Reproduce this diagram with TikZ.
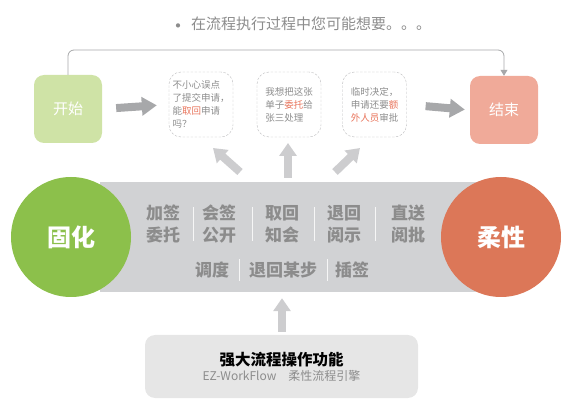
\documentclass[tikz,border=0pt]{standalone}
\usepackage{fontspec}
\setmainfont{Noto Sans CJK SC}
\usetikzlibrary{arrows.meta,positioning,calc}
\definecolor{txtgray}{HTML}{8C8C8C}
\definecolor{hl}{HTML}{E8735A}
\definecolor{startgreen}{HTML}{CFE3A6}
\definecolor{stopred}{HTML}{F0AA99}
\definecolor{fixgreen}{HTML}{8CC04B}
\definecolor{flexred}{HTML}{DC7758}
\definecolor{bandgray}{HTML}{D1D2D4}
\definecolor{darkarr}{HTML}{A7A8AA}
\definecolor{lightarr}{HTML}{CDCDCF}
\definecolor{basegray}{HTML}{E6E6E6}

\begin{document}
\begin{tikzpicture}[x=1pt,y=-1pt,
 endbox/.style={rounded corners=10pt,minimum width=68pt,minimum height=68pt,text=white,font=\fontsize{15}{18}\selectfont},
 wish/.style={draw=darkarr!80,dash pattern=on 2.5pt off 1.5pt,rounded corners=12pt,minimum width=64pt,minimum height=65pt,align=left,
   text=txtgray,font=\fontsize{9.5}{13}\selectfont,inner sep=0pt},
 circ/.style={circle,minimum size=120pt,inner sep=0pt,text=white,font=\fontsize{24}{28}\selectfont\bfseries},
 op/.style={align=center,text=txtgray,font=\fontsize{17}{22}\selectfont\bfseries,inner sep=0pt},
 sep/.style={draw=white!80!bandgray,line width=1pt},
 fat/.style={darkarr,line width=8pt,-{Triangle[length=15pt,width=18pt]}},
 up/.style={lightarr,line width=8pt,-{Triangle[length=13pt,width=17pt]}},
 conn/.style={draw=darkarr,line width=.8pt,rounded corners=6pt,-{Triangle[length=6pt,width=7pt]}}]
\useasboundingbox (0,0) rectangle (574,409);

% top hint
\node[text=txtgray,font=\fontsize{20}{20}\selectfont,inner sep=0pt] (dot) at (178,28.5) {•};
\node[text=txtgray,font=\fontsize{15}{18}\selectfont,anchor=west,inner sep=0pt] (hint) at (191,24) {在流程执行过程中您可能想要。。。};

% flow row
\node[endbox,fill=startgreen] (start) at (68,109) {开始};
\node[endbox,fill=stopred] (stop) at (504,110) {结束};
\node[wish] (w1) at (201,104.5) {不小心误点\\了提交申请，\\能\textcolor{hl}{取回}申请\\吗？};
\node[wish] (w2) at (289,104.5) {我想把这张\\单子\textcolor{hl}{委托}给\\张三处理};
\node[wish] (w3) at (374.5,104.5) {临时决定，\\申请还要\textcolor{hl}{额}\\\textcolor{hl}{外人员}审批};
\draw[fat,shorten <=14pt,shorten >=12pt] (start.east) -- (w1.west);
\draw[fat,shorten <=19pt,shorten >=5pt] (w3.east) -- (stop.west);
\coordinate (ctop) at (275,50);
\draw[conn] (start.north) |- (ctop) -| (stop.north);

% band of operations
\node[fill=bandgray,minimum width=380pt,minimum height=110pt,inner sep=0pt] (band) at (290,237) {};
\node[circ,fill=fixgreen] (fix) at (71,237) {固化};
\node[circ,fill=flexred] (flex) at (501,237) {柔性};

\node[op] (o1) at (163,224) {加签\\委托};
\node[op] (o2) at (219,224) {会签\\公开};
\node[op] (o3) at (282,224) {取回\\知会};
\node[op] (o4) at (344,224) {退回\\阅示};
\node[op] (o5) at (408,224) {直送\\阅批};
\node[op] (o6) at (212,270) {调度};
\node[op] (o7) at (283,270) {退回某步};
\node[op] (o8) at (352,270) {插签};
\foreach \x in {193,252,314,375} \draw[sep] (\x,207) -- (\x,241);
\foreach \x in {239,327} \draw[sep] (\x,259) -- (\x,281);

% arrows up to the wishes
\coordinate (t1) at (240,172); \coordinate (h1) at (213,148);
\coordinate (t2) at (288,178); \coordinate (h2) at (288,143);
\coordinate (t3) at (335,172); \coordinate (h3) at (360,148);
\draw[up] (t1) -- (h1);
\draw[up] (t2) -- (h2);
\draw[up] (t3) -- (h3);

% engine
\node[fill=basegray,rounded corners=10pt,minimum width=273pt,minimum height=63pt,align=center,inner sep=0pt] (base) at (281.5,366.5)
 {{\fontsize{15.5}{18}\selectfont\bfseries 强大流程操作功能}\\[3pt]
  {\color{txtgray}\fontsize{12}{14}\selectfont EZ-WorkFlow\quad 柔性流程引擎}};
\coordinate (tb) at (282,332);
\draw[up,shorten >=6pt] (tb) -- (band.south -| tb);
\end{tikzpicture}
\end{document}
